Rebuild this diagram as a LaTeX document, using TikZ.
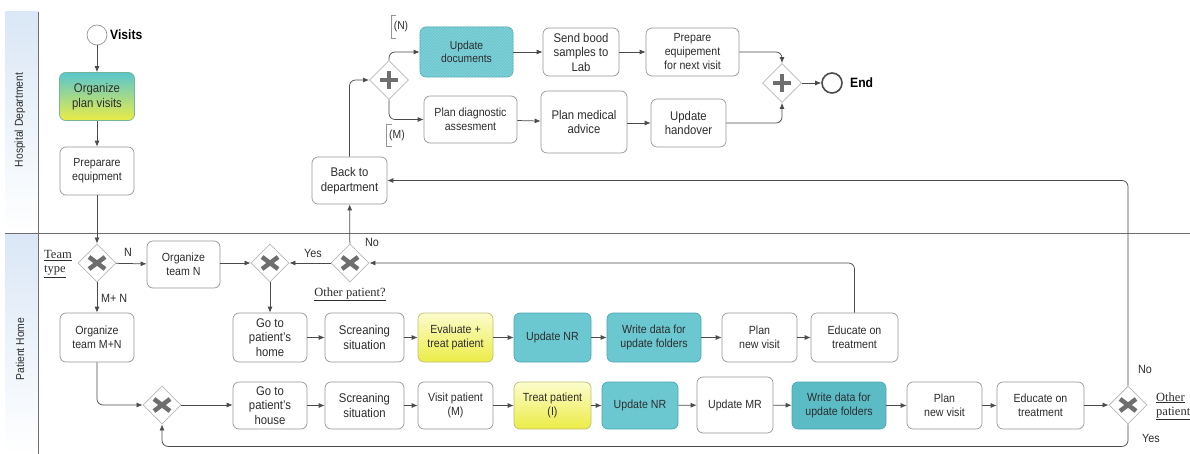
\documentclass[tikz,border=0pt]{standalone}
\usepackage{fontspec}
\setmainfont[FakeStretch=0.9]{Liberation Sans}
\newfontfamily\noteserif{Liberation Serif}
\usetikzlibrary{shapes.geometric,arrows.meta,patterns}

\definecolor{tealfill}{RGB}{108,200,208}
\definecolor{tealdraw}{RGB}{72,168,178}
\definecolor{tealdark}{RGB}{92,188,198}
\definecolor{hatchcol}{RGB}{140,212,218}
\definecolor{yelltop}{RGB}{252,252,205}
\definecolor{yellbot}{RGB}{236,236,70}
\definecolor{yelldraw}{RGB}{190,190,120}
\definecolor{orgtop}{RGB}{88,198,206}
\definecolor{orgdraw}{RGB}{120,180,150}
\definecolor{boxgray}{RGB}{150,150,150}
\definecolor{gwgray}{RGB}{185,185,185}
\definecolor{glyphgray}{RGB}{110,110,110}
\definecolor{flowgray}{RGB}{75,75,75}
\definecolor{txtgray}{RGB}{45,45,45}
\definecolor{lanetop}{RGB}{218,231,246}
\definecolor{linegray}{RGB}{110,110,110}

\begin{document}
\begin{tikzpicture}[x=1pt,y=-1pt]
    \tikzstyle{task}=[rectangle, rounded corners=6pt, draw=boxgray, fill=white, line width=0.7pt,
                      align=center, text=txtgray, font=\fontsize{11.8}{14}\selectfont,
                      minimum width=75pt, minimum height=48pt, inner sep=1pt]
    \tikzstyle{bigtxt}=[font=\fontsize{12.6}{14.5}\selectfont]
    \tikzstyle{tealtask}=[task, fill=tealfill, draw=tealdraw]
    \tikzstyle{yellowtask}=[task, draw=yelldraw, top color=yelltop, bottom color=yellbot]
    \tikzstyle{xgw}=[diamond, draw=gwgray, fill=white, line width=0.8pt, minimum size=38pt, inner sep=0pt,
                     path picture={\draw[line width=4.5pt, glyphgray]
                         ([shift={(-8,-6)}]path picture bounding box.center) -- ([shift={(8,6)}]path picture bounding box.center)
                         ([shift={(-8,6)}]path picture bounding box.center) -- ([shift={(8,-6)}]path picture bounding box.center);}]
    \tikzstyle{pgw}=[diamond, draw=gwgray, fill=white, line width=0.8pt, minimum size=39pt, inner sep=0pt,
                     path picture={\draw[line width=4pt, glyphgray]
                         ([shift={(-9,0)}]path picture bounding box.center) -- ([shift={(9,0)}]path picture bounding box.center)
                         ([shift={(0,-9)}]path picture bounding box.center) -- ([shift={(0,9)}]path picture bounding box.center);}]
    \tikzstyle{startevent}=[circle, draw=gwgray!80!black, fill=white, line width=0.7pt, minimum size=20pt, inner sep=0pt]
    \tikzstyle{endevent}=[circle, draw=flowgray, fill=white, line width=1.6pt, minimum size=20pt, inner sep=0pt]
    \tikzstyle{evlabel}=[anchor=west, inner sep=0pt, text=black, font=\bfseries\fontsize{13.5}{15}\selectfont]
    \tikzstyle{flow}=[draw=flowgray, line width=0.75pt, rounded corners=6pt, -{Latex[length=6pt,width=5pt]}]
    \tikzstyle{flowlabel}=[inner sep=0pt, text=txtgray, font=\fontsize{12}{13}\selectfont]
    \tikzstyle{gwlabel}=[inner sep=0pt, text=txtgray, align=left, font=\noteserif\fontsize{12.5}{14}\selectfont]
    \tikzstyle{annot}=[inner xsep=2.5pt, inner ysep=0pt, text=txtgray, font=\fontsize{11.5}{12}\selectfont]
    \tikzstyle{annotline}=[draw=boxgray, line width=0.7pt]
    \tikzstyle{lanelabel}=[rotate=90, inner sep=0pt, text=txtgray, font=\fontsize{11.5}{12}\selectfont]

    \useasboundingbox (0,0) rectangle (1190,454);

    % lanes
    \shade[top color=lanetop, bottom color=white] (5,12) rectangle (38,233);
    \shade[top color=lanetop, bottom color=white] (5,234) rectangle (38,454);
    \draw[linegray, line width=0.8pt] (38,12) -- (38,454);
    \draw[linegray, line width=0.8pt] (5,233.5) -- (1190,233.5);
    \node[lanelabel] (lanehosp) at (20,120) {Hospital Department};
    \node[lanelabel] (lanehome) at (20,349) {Patient Home};

    % hospital department
    \node[startevent] (visits) at (97,35) {};
    \node[evlabel] (visitslbl) at (110,35) {Visits};
    \node[task, bigtxt, top color=orgtop, bottom color=yellbot, draw=orgdraw] (orgplan) at (97,96.5) {Organize\\plan visits};
    \node[task, minimum width=74pt] (prepeq) at (97,171) {Preparare\\equipment};
    \node[task, bigtxt, minimum height=47pt] (backdep) at (349.5,180.5) {Back to\\department};
    \node[pgw] (splitgw) at (389,80) {};
    \node[tealtask, minimum width=93pt, minimum height=50pt, font=\fontsize{11.5}{13.5}\selectfont,
          postaction={pattern=north east lines, pattern color=hatchcol}] (upddoc) at (466.5,52) {Update\\documents};
    \node[task, bigtxt, minimum width=76pt] (sendlab) at (581,52) {Send bood\\samples to\\Lab};
    \node[task, minimum width=93pt] (prepnext) at (692.5,52) {Prepare\\equipement\\for next visit};
    \node[task, minimum width=93pt, minimum height=47pt] (plandiag) at (470.5,119.5) {Plan diagnostic\\assesment};
    \node[task, bigtxt, minimum width=86pt, minimum height=62pt] (planmed) at (584,122) {Plan medical\\advice};
    \node[task, bigtxt] (updhand) at (688.5,123) {Update\\handover};
    \node[pgw] (joingw) at (782,83) {};
    \node[endevent] (endev) at (832,83) {};
    \node[evlabel] (endlbl) at (850,83) {End};

    \node[annot, minimum height=23pt] (annN) at (401,27) {(N)};
    \draw[annotline] ([xshift=5pt]annN.north west) -- (annN.north west) -- (annN.south west) -- ([xshift=5pt]annN.south west);
    \node[annot, minimum height=21pt] (annM) at (397,135.5) {(M)};
    \draw[annotline] ([xshift=5pt]annM.north west) -- (annM.north west) -- (annM.south west) -- ([xshift=5pt]annM.south west);

    % patient home
    \node[xgw] (teamgw) at (97,263) {};
    \node[task, minimum width=73pt, minimum height=47pt] (orgN) at (183.5,264.5) {Organize\\team N};
    \node[xgw] (mergegw) at (270,263) {};
    \node[xgw] (othergw) at (350,263) {};
    \node[task, minimum width=74pt, minimum height=49pt] (orgMN) at (97,337.5) {Organize\\team M+N};

    \node[task, bigtxt, minimum width=74pt, minimum height=49pt] (home) at (270,337.5) {Go to\\patient's\\home};
    \node[task, bigtxt, minimum width=79pt, minimum height=49pt] (screen1) at (364.5,337.5) {Screaning\\situation};
    \node[yellowtask, minimum height=49pt] (evaltreat) at (455.5,337.5) {Evaluate +\\treat patient};
    \node[tealtask, minimum width=77pt, minimum height=49pt] (updnr1) at (552.5,337.5) {Update NR};
    \node[tealtask, minimum width=94pt, minimum height=49pt] (write1) at (654,337.5) {Write data for\\update folders};
    \node[task, minimum height=49pt] (plan1) at (759.5,337.5) {Plan\\new visit};
    \node[task, minimum width=87pt, minimum height=49pt] (educ1) at (854.5,337.5) {Educate on\\treatment};

    \node[xgw] (gw3) at (162,405) {};
    \node[task, bigtxt, minimum width=74pt, minimum height=47pt] (house) at (270,405.5) {Go to\\patient's\\house};
    \node[task, bigtxt, minimum width=79pt, minimum height=47pt] (screen2) at (364.5,405.5) {Screaning\\situation};
    \node[task, minimum height=47pt] (visitM) at (455.5,405.5) {Visit patient\\(M)};
    \node[yellowtask, minimum width=77pt, minimum height=47pt] (treatI) at (552.5,405.5) {Treat patient\\(I)};
    \node[tealtask, minimum width=76pt, minimum height=47pt] (updnr2) at (640,405.5) {Update NR};
    \node[task, minimum width=76pt, minimum height=56pt] (updmr) at (735,405) {Update MR};
    \node[tealtask, fill=tealdark, minimum width=94pt, minimum height=47pt] (write2) at (839,405.5) {Write data for\\update folders};
    \node[task, minimum height=47pt] (plan2) at (944.5,405.5) {Plan\\new visit};
    \node[task, minimum width=87pt, minimum height=47pt] (educ2) at (1040.5,405.5) {Educate on\\treatment};
    \node[xgw] (rightgw) at (1128,405) {};

    % labels
    \node[gwlabel, anchor=west] (teamlbl) at (44,264) {\underline{Team}\\\underline{type}};
    \node[flowlabel] (lblN) at (128,252) {N};
    \node[flowlabel, anchor=west] (lblMN) at (101,298) {M+ N};
    \node[flowlabel] (lblyes) at (313,253) {Yes};
    \node[flowlabel] (lblno) at (372,242) {No};
    \node[gwlabel] (otherlbl) at (350,294) {\underline{Other patient?}};
    \node[flowlabel] (lblno2) at (1145,369) {No};
    \node[flowlabel] (lblyes2) at (1151,438) {Yes};
    \node[gwlabel, anchor=west] (otherlbl2) at (1156,406) {\underline{Other}\\\underline{patient}};

    % flows hospital department
    \draw[flow] (visits) -- (orgplan);
    \draw[flow] (orgplan) -- (prepeq);
    \draw[flow] (prepeq) -- (teamgw);
    \draw[flow] (backdep.north) |- (splitgw.west);
    \draw[flow] (splitgw.north) |- (upddoc.west);
    \draw[flow] (splitgw.south) |- (plandiag.west);
    \draw[flow] (upddoc) -- (sendlab);
    \draw[flow] (sendlab) -- (prepnext);
    \draw[flow] (prepnext.east) -| (joingw.north);
    \draw[flow] (plandiag) -- (planmed);
    \draw[flow] (planmed.east |- updhand.west) -- (updhand.west);
    \draw[flow] (updhand.east) -| (joingw.south);
    \draw[flow] (joingw) -- (endev);

    % flows patient home
    \draw[flow] (teamgw) -- (orgN);
    \draw[flow] (orgN.east |- mergegw.west) -- (mergegw.west);
    \draw[flow] (othergw) -- (mergegw);
    \draw[flow] (othergw) -- (backdep);
    \draw[flow] (educ1.north) |- (othergw.east);
    \draw[flow] (mergegw) -- (home);
    \draw[flow] (teamgw) -- (orgMN);
    \draw[flow] (orgMN.south) |- (gw3.west);
    \draw[flow] (gw3.east) -- (house.west |- gw3.east);
    \draw[flow] (home) -- (screen1);
    \draw[flow] (screen1) -- (evaltreat);
    \draw[flow] (evaltreat) -- (updnr1);
    \draw[flow] (updnr1) -- (write1);
    \draw[flow] (write1) -- (plan1);
    \draw[flow] (plan1) -- (educ1);
    \draw[flow] (house) -- (screen2);
    \draw[flow] (screen2) -- (visitM);
    \draw[flow] (visitM) -- (treatI);
    \draw[flow] (treatI) -- (updnr2);
    \draw[flow] (updnr2) -- (updmr);
    \draw[flow] (updmr) -- (write2);
    \draw[flow] (write2) -- (plan2);
    \draw[flow] (plan2) -- (educ2);
    \draw[flow] (educ2.east |- rightgw.west) -- (rightgw.west);
    \draw[flow] (rightgw.south) -- ++(0,22) -| (gw3.south);
    \draw[flow] (rightgw.north) |- (backdep.east);
\end{tikzpicture}
\end{document}
